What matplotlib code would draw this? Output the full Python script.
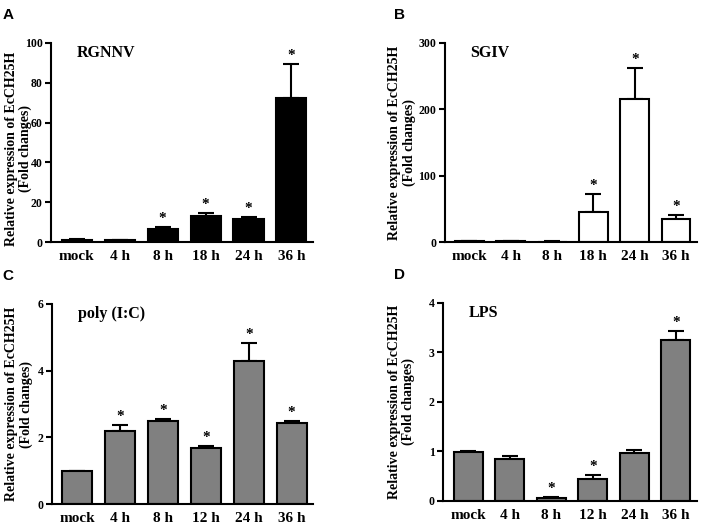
import matplotlib.pyplot as plt

plt.rcParams['font.family'] = 'Liberation Serif'
plt.rcParams['font.weight'] = 'bold'
plt.rcParams['axes.labelweight'] = 'bold'

labels_a = ['mock', '4 h', '8 h', '18 h', '24 h', '36 h']
values_a = [1.0, 0.8, 6.4, 12.9, 11.5, 72.3]
errors_a = [0.3, 0.1, 1.1, 1.7, 0.9, 17.0]
stars_a = [False, False, True, True, True, True]

labels_b = ['mock', '4 h', '8 h', '18 h', '24 h', '36 h']
values_b = [1.0, 1.2, 0.8, 46.0, 216.0, 35.0]
errors_b = [0.2, 0.2, 0.1, 26.0, 46.0, 6.0]
stars_b = [False, False, False, True, True, True]

labels_c = ['mock', '4 h', '8 h', '12 h', '24 h', '36 h']
values_c = [1.0, 2.2, 2.5, 1.69, 4.29, 2.43]
errors_c = [0.0, 0.16, 0.06, 0.05, 0.54, 0.06]
stars_c = [False, True, True, True, True, True]

labels_d = ['mock', '4 h', '8 h', '12 h', '24 h', '36 h']
values_d = [0.99, 0.85, 0.05, 0.45, 0.97, 3.26]
errors_d = [0.01, 0.06, 0.02, 0.07, 0.06, 0.18]
stars_d = [False, False, True, True, False, True]

fig = plt.figure(figsize=(7.08, 5.24), dpi=100)


def panel(rect, letter, name, labels, values, errors, stars, color, ymax, step,
          lab_x, lab_y=0.5):
    ax = fig.add_axes(rect)
    x = range(len(values))
    ax.bar(x, values, width=0.7, color=color, edgecolor='black', linewidth=1.5,
           zorder=2)
    ax.errorbar(x, values, yerr=[[0] * len(errors), errors], fmt='none',
                ecolor='black', elinewidth=1.5, capsize=6, capthick=1.5, zorder=1)
    for i, s in enumerate(stars):
        if s:
            ax.text(i, values[i] + errors[i] + ymax * 0.01, '*', ha='center',
                    va='bottom', fontsize=11)
    ax.set_xlim(-0.6, len(values) - 0.5)
    ax.set_ylim(0, ymax)
    ax.set_yticks(range(0, ymax + 1, step))
    ax.set_xticks(list(x))
    ax.set_xticklabels(labels, fontsize=11, weight='bold')
    ax.tick_params(axis='x', length=0, pad=6)
    ax.tick_params(axis='y', labelsize=8.5, width=1.5, length=4, pad=2)
    for lab in ax.get_yticklabels():
        lab.set_fontweight('bold')
    for side in ['top', 'right']:
        ax.spines[side].set_visible(False)
    for side in ['left', 'bottom']:
        ax.spines[side].set_linewidth(1.5)
    ax.set_ylabel('Relative expression of EcCH25H\n(Fold changes)', fontsize=10,
                  weight='bold', linespacing=1.1)
    ax.yaxis.set_label_coords(lab_x, lab_y)
    ax.text(0.1, 0.99, name, transform=ax.transAxes, fontsize=11.5, va='top',
            weight='bold')
    fig.text(0.004 if rect[0] < 0.5 else 0.557, rect[1] + rect[3] + 0.045, letter,
             family='Liberation Sans', fontsize=11, weight='bold')
    return ax


panel([0.072, 0.538, 0.370, 0.380], 'A', 'RGNNV', labels_a, values_a, errors_a,
      stars_a, 'black', 100, 20, -0.072, 0.47)
panel([0.628, 0.538, 0.356, 0.380], 'B', 'SGIV', labels_b, values_b, errors_b,
      stars_b, 'white', 300, 100, -0.115)
panel([0.073, 0.038, 0.369, 0.382], 'C', 'poly (I:C)', labels_c, values_c, errors_c,
      stars_c, '#808080', 6, 2, -0.072)
panel([0.626, 0.044, 0.358, 0.378], 'D', 'LPS', labels_d, values_d, errors_d,
      stars_d, '#808080', 4, 1, -0.11)

fig.savefig('out.png', dpi=100)
